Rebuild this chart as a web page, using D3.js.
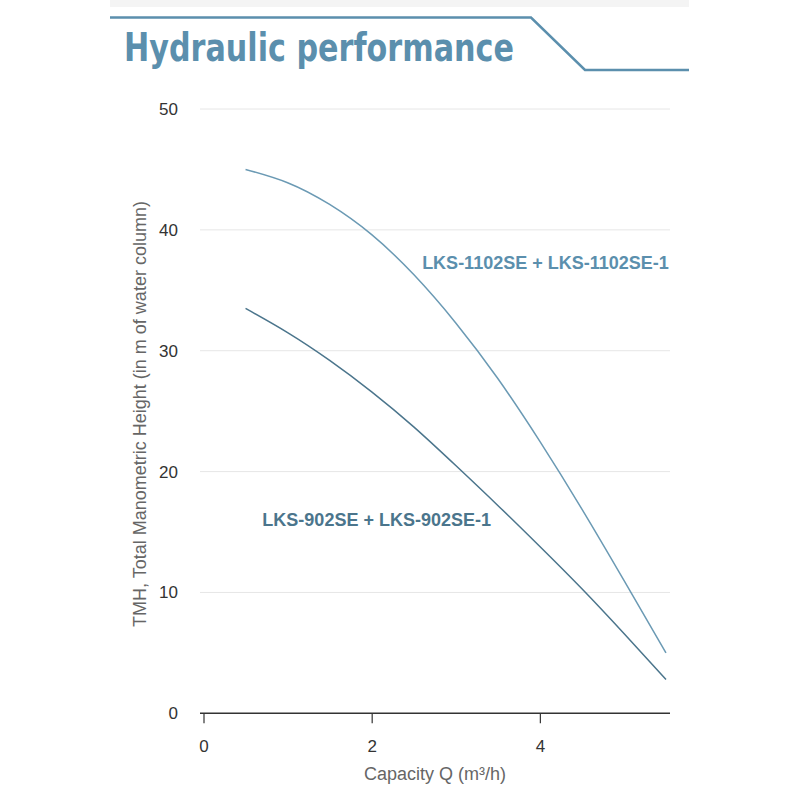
<!DOCTYPE html>
<html>
    <head>
        <meta charset="utf-8">
        <title>Hydraulic performance</title>
        <script src="https://d3js.org/d3.v7.min.js"></script>
        <style>
            body { margin: 0; background: #fff; }
        </style>
    </head>
    <body>
    <script type="text/javascript">
    // capacity values (m3/h)
    var capacity = [0.5, 1, 1.5, 2, 2.5, 3, 3.5, 4, 4.5, 5, 5.5];
    // head values
    var head1102 = [45, 43.9, 42.1, 39.6, 36.3, 32.3, 27.7, 22.5, 16.9, 11.0, 5.0];
    var head902 = [33.5, 31.5, 29.2, 26.6, 23.7, 20.5, 17.2, 13.8, 10.3, 6.6, 2.8];
    var seriesNames = ["LKS-1102SE + LKS-1102SE-1", "LKS-902SE + LKS-902SE-1"];
    var xTicks = [0, 2, 4];
    var yTicks = [0, 10, 20, 30, 40, 50];

    var width = 800, height = 800;
    var blue = "#5b8fad"; // light series + title
    var dark = "#4b758c"; // darker series

    var svg = d3.select("body")
                .append("svg")
                .attr("width", width)
                .attr("height", height);

    //header
    //----------------------------------------------
    svg.append("rect")
       .attr("x", 110).attr("y", 0)
       .attr("width", 579).attr("height", 7)
       .attr("fill", "#f4f4f4");

    svg.append("path")
       .attr("d", "M110 17.5 L531 17.5 L585 70 L689 70")
       .attr("fill", "none")
       .attr("stroke", blue)
       .attr("stroke-width", 2.5);

    svg.append("text")
       .attr("x", 124)
       .attr("y", 61)
       .attr("font-family", "'DejaVu Sans Condensed', 'DejaVu Sans', sans-serif")
       .attr("font-weight", "bold")
       .attr("font-size", 39)
       .attr("textLength", 390)
       .attr("lengthAdjust", "spacingAndGlyphs")
       .attr("fill", blue)
       .text("Hydraulic performance");

    //scales
    //----------------------------------------------
    var x = d3.scaleLinear().domain([0, 5.5]).range([203.5, 666]);
    var y = d3.scaleLinear().domain([0, 50]).range([713.3, 109]);

    //grid lines
    svg.append("g")
       .selectAll("line")
       .data(yTicks.filter(function(d){ return d > 0; }))
       .enter()
       .append("line")
       .attr("x1", 200).attr("x2", 670)
       .attr("y1", function(d){ return y(d); })
       .attr("y2", function(d){ return y(d); })
       .attr("stroke", "#e6e6e6")
       .attr("stroke-width", 1);

    //y axis labels
    svg.append("g")
       .selectAll("text")
       .data(yTicks)
       .enter()
       .append("text")
       .attr("x", 178)
       .attr("y", function(d){ return y(d) + 6; })
       .attr("text-anchor", "end")
       .attr("font-family", "'Liberation Sans', Arial, sans-serif")
       .attr("font-size", 17)
       .attr("fill", "#333")
       .text(function(d){ return d; });

    //x axis
    var xAxis = d3.axisBottom(x)
                  .tickValues(xTicks)
                  .tickFormat(d3.format("d"))
                  .tickSize(10)
                  .tickPadding(17)
                  .tickSizeOuter(0);

    var gx = svg.append("g")
                .attr("transform", "translate(0," + y(0) + ")")
                .call(xAxis);
    gx.select(".domain").remove();
    gx.append("line")
      .attr("x1", 200).attr("x2", 670)
      .attr("y1", 0).attr("y2", 0)
      .attr("stroke", "#333")
      .attr("stroke-width", 1.5);
    gx.selectAll(".tick line").attr("stroke", "#333").attr("stroke-width", 1.2);
    gx.selectAll(".tick text")
      .attr("font-family", "'Liberation Sans', Arial, sans-serif")
      .attr("font-size", 17)
      .attr("fill", "#333");

    //axis titles
    svg.append("text")
       .attr("x", 435)
       .attr("y", 780)
       .attr("text-anchor", "middle")
       .attr("font-family", "'Liberation Sans', Arial, sans-serif")
       .attr("font-size", 18)
       .attr("fill", "#666")
       .text("Capacity Q (m³/h)");

    svg.append("text")
       .attr("transform", "translate(146," + 414 + ") rotate(-90)")
       .attr("text-anchor", "middle")
       .attr("font-family", "'Liberation Sans', Arial, sans-serif")
       .attr("font-size", 18)
       .attr("fill", "#666")
       .text("TMH, Total Manometric Height (in m of water column)");

    //curves
    //----------------------------------------------
    var line = d3.line()
                 .x(function(d){ return x(d[0]); })
                 .y(function(d){ return y(d[1]); })
                 .curve(d3.curveNatural);

    svg.append("path")
       .datum(d3.zip(capacity, head1102))
       .attr("d", line)
       .attr("fill", "none")
       .attr("stroke", "#6b9ab4")
       .attr("stroke-width", 1.5);

    svg.append("path")
       .datum(d3.zip(capacity, head902))
       .attr("d", line)
       .attr("fill", "none")
       .attr("stroke", dark)
       .attr("stroke-width", 1.5);

    //series labels
    svg.append("text")
       .attr("x", x(2.6))
       .attr("y", y(36.8))
       .attr("font-family", "'Liberation Sans', Arial, sans-serif")
       .attr("font-weight", "bold")
       .attr("font-size", 18)
       .attr("fill", blue)
       .text(seriesNames[0]);

    svg.append("text")
       .attr("x", x(0.7))
       .attr("y", y(15.5))
       .attr("font-family", "'Liberation Sans', Arial, sans-serif")
       .attr("font-weight", "bold")
       .attr("font-size", 18)
       .attr("fill", dark)
       .text(seriesNames[1]);
    </script>
    </body>
</html>
